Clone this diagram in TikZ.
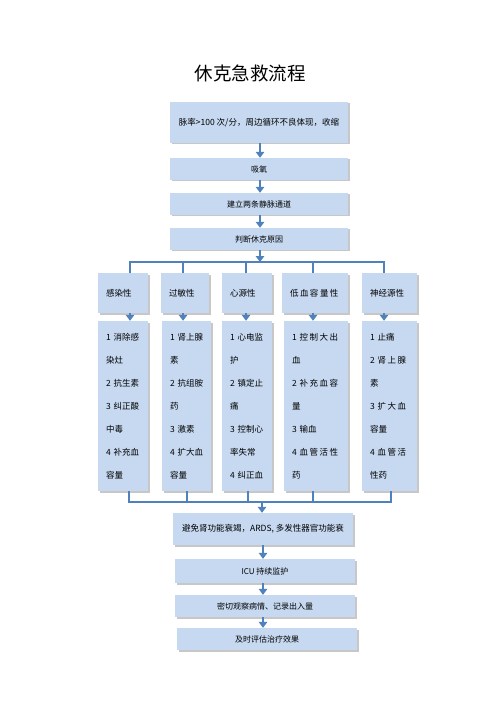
\documentclass[tikz,border=0pt]{standalone}
\usepackage{fontspec}
\setmainfont{Noto Sans CJK SC}
\usetikzlibrary{arrows.meta,shadows}
\definecolor{boxfill}{RGB}{198,217,241}
\definecolor{linec}{RGB}{79,129,189}
\newcommand{\gp}{\hspace{1.5pt}}
\begin{document}
\begin{tikzpicture}[x=1pt,y=-1pt,
  box/.style={fill=boxfill, draw=none, inner sep=0pt,
    drop shadow={shadow xshift=1.5pt,shadow yshift=-1.5pt,fill=black!40,opacity=0.55},
    font=\fontsize{8.5}{10}\selectfont},
  wide/.style={box, minimum width=178pt},
  catbox/.style={box, minimum height=40pt, minimum width=#1pt, text width=#1pt-16pt, align=left},
  detbox/.style={box, minimum height=170pt, minimum width=#1pt, text width=#1pt-16pt, align=left,
    font=\fontsize{8.5}{23}\selectfont},
  conn/.style={draw=linec, line width=2.4pt},
  arr/.style={draw=linec, line width=2.4pt, -{Triangle[width=8.5pt,length=6pt]}},
  ttl/.style={font=\fontsize{18.5}{20}\selectfont}
]
\useasboundingbox (0,0) rectangle (500,708);
\fill[white] (0,0) rectangle (500,708);

\node[ttl] (title) at (250,73) {休克急救流程};

\node[wide, minimum height=41pt] (b1) at (259,122.5) {脉率>100 次/分，周边循环不良体现，收缩};
\node[wide, minimum height=22pt, font=\fontsize{8}{10}\selectfont] (b2) at (259,169) {吸氧};
\node[wide, minimum height=22pt, font=\fontsize{8}{10}\selectfont] (b3) at (259,204) {建立两条静脉通道};
\node[wide, minimum height=22pt, font=\fontsize{8}{10}\selectfont] (b4) at (259,239) {判断休克原因};

\draw[arr] (b1.south -| 260,0) -- (b2.north -| 260,0);
\draw[arr] (b2.south -| 260,0) -- (b3.north -| 260,0);
\draw[arr] (b3.south -| 260,0) -- (b4.north -| 260,0);

% category boxes
\node[catbox=50] (c1) at (123,293) {感染性};
\node[catbox=48] (c2) at (185,293) {过敏性};
\node[catbox=50] (c3) at (247,293) {心源性};
\node[catbox=66] (c4) at (315,293) {\mbox{低\gp 血\gp 容\gp 量\gp 性}};
\node[catbox=55] (c5) at (389.5,293) {神经源性};

% top distribution line
\coordinate (hub1) at (260,262);
\coordinate (t1) at (130,262);
\coordinate (t2) at (183,262);
\coordinate (t3) at (246,262);
\coordinate (t4) at (313,262);
\coordinate (t5) at (384,262);
\draw[arr] (b4.south -| hub1) -- (hub1);
\draw[conn] (c1.north -| t1) -- (t1) -- (t5) -- (c5.north -| t5);
\draw[conn] (t2) -- (c2.north -| t2);
\draw[conn] (t3) -- (c3.north -| t3);
\draw[conn] (t4) -- (c4.north -| t4);

% detail boxes
\node[detbox=50] (d1) at (123,406) {\mbox{1~消除感}\\染灶\\\mbox{2~抗生素}\\\mbox{3~纠正酸}\\中毒\\\mbox{4~补充血}\\容量};
\node[detbox=49] (d2) at (186.5,406) {\mbox{1~肾上腺}\\素\\\mbox{2~抗组胺}\\药\\\mbox{3~激素}\\\mbox{4~扩大血}\\容量};
\node[detbox=50] (d3) at (247,406) {\mbox{1~心电监}\\护\\\mbox{2~镇定止}\\痛\\\mbox{3~控制心}\\率失常\\\mbox{4~纠正血}};
\node[detbox=64] (d4) at (316,406) {\mbox{1~控\gp 制\gp 大\gp 出}\\血\\\mbox{2~补\gp 充\gp 血\gp 容}\\量\\\mbox{3~输血}\\\mbox{4~血\gp 管\gp 活\gp 性}\\药};
\node[detbox=55] (d5) at (389.5,406) {\mbox{1~止痛}\\\mbox{2~肾\gp 上\gp 腺}\\素\\\mbox{3~扩\gp 大\gp 血}\\容量\\\mbox{4~血\gp 管\gp 活}\\性药};

\draw[arr] (c1.south -| t1) -- (d1.north -| t1);
\draw[arr] (c2.south -| t2) -- (d2.north -| t2);
\draw[arr] (c3.south -| t3) -- (d3.north -| t3);
\draw[arr] (c4.south -| t4) -- (d4.north -| t4);
\draw[arr] (c5.south -| t5) -- (d5.north -| t5);

% bottom collection line
\coordinate (hub2) at (262,502);
\coordinate (u1) at (129,502);
\coordinate (u2) at (187,502);
\coordinate (u3) at (248,502);
\coordinate (u4) at (313,502);
\coordinate (u5) at (391,502);
\draw[conn] (d1.south -| u1) -- (u1) -- (u5) -- (d5.south -| u5);
\draw[conn] (d2.south -| u2) -- (u2);
\draw[conn] (d3.south -| u3) -- (u3);
\draw[conn] (d4.south -| u4) -- (u4);

% bottom boxes
\node[box, minimum width=180pt, minimum height=32pt] (e1) at (263,529) {避免肾功能衰竭，ARDS, 多发性器官功能衰};
\node[box, minimum width=180pt, minimum height=24pt, font=\fontsize{8}{10}\selectfont] (e2) at (265,571) {ICU 持续监护};
\node[box, minimum width=180pt, minimum height=22pt, font=\fontsize{8}{10}\selectfont] (e3) at (265,606) {密切观察病情、记录出入量};
\node[box, minimum width=180pt, minimum height=22pt, font=\fontsize{8}{10}\selectfont] (e4) at (267,639) {及时评估治疗效果};

\draw[arr] (hub2) -- (e1.north -| hub2);
\draw[arr] (e1.south -| 263,0) -- (e2.north -| 263,0);
\draw[arr] (e2.south -| 263,0) -- (e3.north -| 263,0);
\draw[arr] (e3.south -| 263,0) -- (e4.north -| 263,0);
\end{tikzpicture}
\end{document}
